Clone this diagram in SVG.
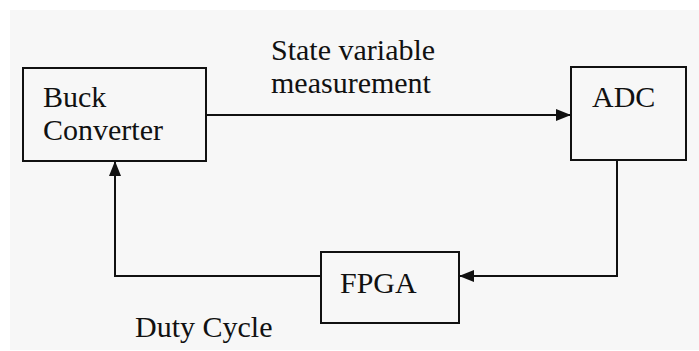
<svg xmlns="http://www.w3.org/2000/svg" width="699" height="351" viewBox="0 0 699 351">
  <style>
    .box { fill: none; stroke: #111; stroke-width: 2; }
    .wire { fill: none; stroke: #111; stroke-width: 2; }
    .lbl { font-family: "Liberation Serif", "Times New Roman", serif; font-size: 30px; fill: #111; }
  </style>
  <defs>
    <marker id="arrow" viewBox="0 0 15 12" refX="15" refY="6" markerWidth="15" markerHeight="12" markerUnits="userSpaceOnUse" orient="auto">
      <path d="M0,0 L15,6 L0,12 Z" fill="#111"/>
    </marker>
  </defs>

  <!-- page -->
  <rect x="0" y="0" width="699" height="351" fill="#ffffff"/>
  <rect x="10" y="10" width="689" height="340" fill="#f7f7f7"/>

  <!-- connectors -->
  <g id="connectors">
    <path class="wire" d="M206,115 H571" marker-end="url(#arrow)"/>
    <path class="wire" d="M617,160 V276 H459" marker-end="url(#arrow)"/>
    <path class="wire" d="M321,276 H115 V161" marker-end="url(#arrow)"/>
    <text class="lbl" x="271" y="60">State variable</text>
    <text class="lbl" x="271" y="93">measurement</text>
    <text class="lbl" x="135" y="337">Duty Cycle</text>
  </g>

  <g id="buck-converter">
    <rect class="box" x="23" y="68" width="183" height="93"/>
    <text class="lbl" x="43" y="107">Buck</text>
    <text class="lbl" x="43" y="140">Converter</text>
  </g>

  <g id="adc">
    <rect class="box" x="571" y="67" width="115" height="93"/>
    <text class="lbl" x="592" y="107">ADC</text>
  </g>

  <g id="fpga">
    <rect class="box" x="321" y="252" width="138" height="71"/>
    <text class="lbl" x="340" y="293">FPGA</text>
  </g>
</svg>
